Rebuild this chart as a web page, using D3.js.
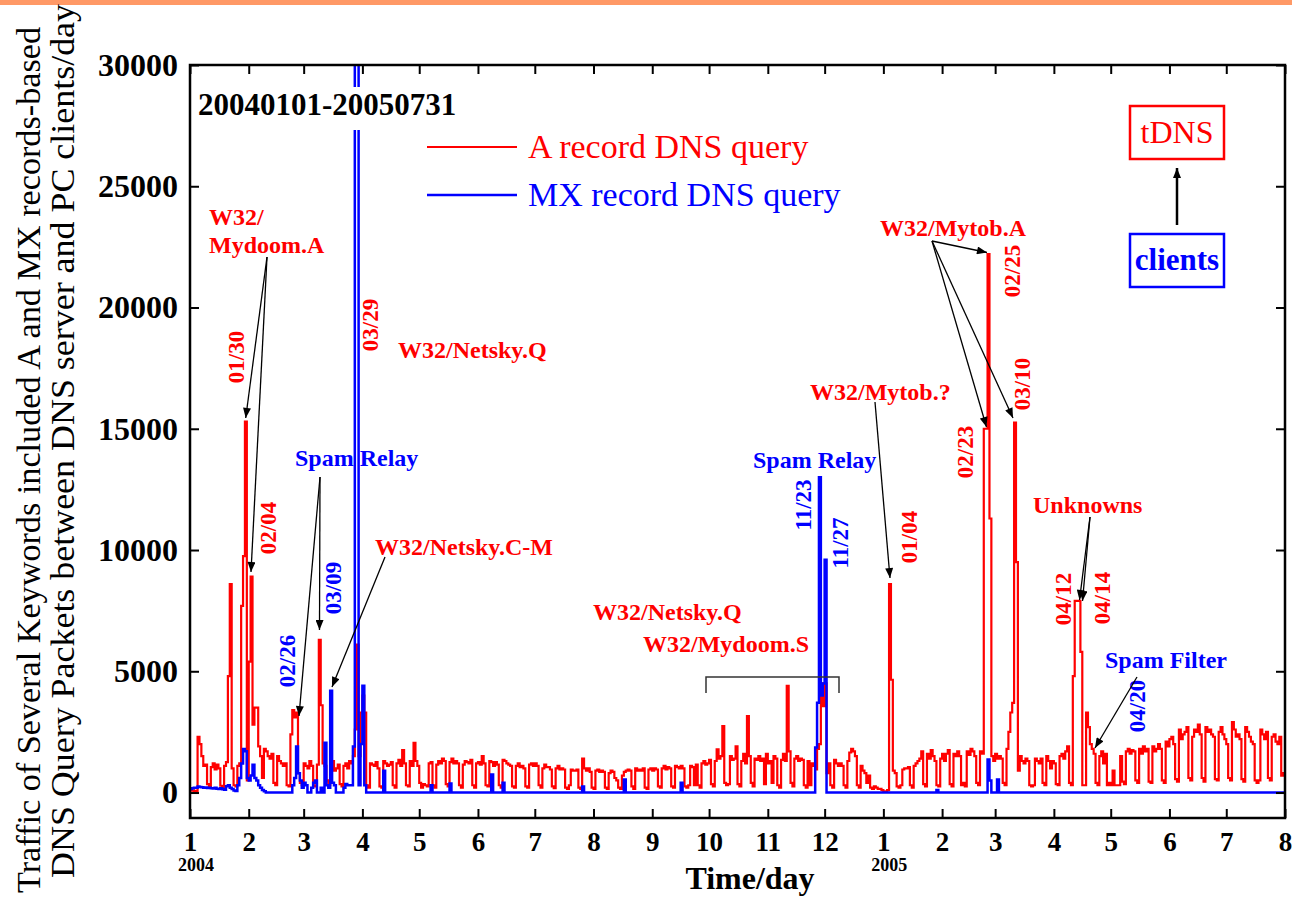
<!DOCTYPE html>
<html>
<head>
<meta charset="utf-8">
<script src="https://cdn.jsdelivr.net/npm/d3@7"></script>
<style>
  body { margin: 0; background: #fff; }
  svg { display: block; font-family: "Liberation Serif", "Times New Roman", serif; }
</style>
</head>
<body>
<svg id="chart" width="1292" height="897"></svg>
<script>
// daily packets, 2004-01-01 .. 2005-07-31, one row per week (Thu..Wed)
const aRecord = [
  80, 90, 70, 60, 2300, 2000, 1500,
  1100, 1150, 350, 250, 1050, 1200, 950,
  1150, 1000, 280, 200, 1100, 1250, 4800,
  8600, 1000, 300, 250, 1100, 1200, 7700,
  9750, 15300, 500, 5400, 8900, 2800, 3500,
  3500, 1900, 1500, 600, 1800, 1700, 1500,
  1400, 1600, 400, 300, 1500, 1300, 1200,
  1100, 1200, 300, 250, 2400, 3400, 3100,
  3300, 800, 400, 300, 1200, 1100, 1000,
  1300, 1100, 300, 250, 1150, 6300, 3600,
  1200, 1100, 500, 300, 1000, 1300, 900,
  1000, 1150, 350, 250, 1100, 1200, 1000,
  1300, 1200, 1500, 2600, 6100, 1500, 3300,
  4000, 3300, 300, 200, 1200, 1150, 1100,
  1250, 1000, 250, 200, 1300, 1200, 1100,
  1150, 1250, 300, 200, 1200, 1350, 1100,
  1750, 1200, 300, 250, 1300, 1100, 2050,
  1300, 1100, 400, 200, 350, 300, 250,
  1200, 1250, 300, 200, 1150, 1300, 1200,
  1400, 1300, 350, 250, 1250, 1400, 1200,
  1300, 1200, 300, 200, 1150, 1300, 1250,
  1200, 1350, 300, 200, 1200, 1250, 1150,
  1500, 1200, 300, 250, 1300, 1250, 1100,
  1250, 1150, 300, 200, 1350, 1300, 1200,
  1150, 1100, 250, 200, 1100, 1200, 1050,
  1100, 1000, 250, 200, 1150, 1200, 1100,
  1200, 1100, 300, 200, 1000, 1150, 1050,
  1050, 950, 250, 180, 1000, 1100, 950,
  1000, 950, 200, 150, 300, 950, 900,
  900, 950, 200, 150, 1400, 1000, 900,
  1000, 850, 200, 150, 900, 950, 850,
  900, 850, 200, 150, 800, 900, 850,
  600, 500, 200, 150, 700, 850, 900,
  950, 900, 250, 150, 1000, 900, 950,
  900, 1000, 200, 150, 950, 1000, 900,
  1000, 950, 250, 200, 1000, 1100, 950,
  1050, 1000, 250, 200, 1100, 1050, 1000,
  1100, 1000, 250, 200, 300, 1100, 1050,
  300, 1150, 300, 200, 1200, 1300, 1150,
  1200, 1350, 350, 250, 1300, 1780, 1400,
  1500, 2740, 400, 300, 350, 1500, 1350,
  1400, 1900, 350, 250, 1300, 1600, 1200,
  3150, 1500, 400, 250, 1400, 1350, 1500,
  1300, 1400, 350, 1600, 1200, 1300, 400,
  1500, 1400, 300, 200, 1350, 1600, 1300,
  4400, 1700, 400, 250, 1400, 1500, 1300,
  1400, 1350, 300, 200, 1300, 300, 1200,
  1100, 950, 1800, 2000, 4500, 3560, 4500,
  800, 1200, 300, 200, 1350, 1200, 1100,
  1200, 1100, 300, 200, 1300, 1650, 1800,
  1700, 1500, 300, 200, 1100, 900, 800,
  400, 700, 200, 150, 250, 200, 150,
  150, 100, 50, 50, 100, 8600, 4650,
  900, 800, 250, 200, 300, 950, 1000,
  1000, 1050, 300, 200, 1100, 1200, 1300,
  1400, 1700, 350, 250, 1600, 1400, 1750,
  1500, 1300, 300, 250, 1400, 1600, 1300,
  1600, 1750, 350, 250, 1600, 1500, 1700,
  1500, 300, 400, 250, 1700, 1550, 1800,
  1700, 1500, 400, 300, 1700, 1600, 15000,
  15000, 22200, 11300, 1500, 1300, 1600, 1400,
  1500, 1400, 400, 300, 1800, 2500, 3300,
  3700, 15250, 9500, 900, 1500, 1300, 1200,
  1400, 1300, 300, 250, 300, 1400, 1300,
  1200, 1400, 400, 300, 1500, 1300, 1000,
  1300, 1200, 350, 300, 1500, 1600, 1400,
  1700, 1900, 400, 300, 4800, 7900, 7900,
  7900, 5800, 300, 300, 3300, 2700, 2000,
  1800, 1600, 400, 300, 1500, 1700, 1200,
  1600, 300, 400, 300, 900, 300, 300,
  300, 1500, 450, 350, 1700, 1800, 1600,
  1750, 1700, 500, 400, 1800, 1600, 1900,
  1700, 1800, 450, 400, 1900, 1700, 1800,
  2000, 1800, 500, 400, 2100, 1900, 2200,
  2300, 2000, 550, 450, 2600, 2200, 2400,
  2500, 2700, 600, 500, 2300, 2600, 2500,
  2800, 2400, 600, 450, 2700, 2500, 2600,
  2400, 2300, 550, 500, 2500, 2700, 2400,
  2200, 2000, 600, 500, 2900, 2600, 2300,
  2400, 2200, 550, 450, 2700, 2500, 2300,
  2100, 2000, 500, 400, 500, 2600, 2400,
  2200, 2500, 600, 500, 2300, 2400, 2100,
  2000, 2300, 700, 800
];

const mxRecord = [
  150, 180, 200, 200, 250, 230, 220,
  200, 210, 190, 200, 180, 170, 200,
  160, 150, 180, 140, 120, 260, 300,
  200, 150, 80, 60, 300, 600, 1200,
  1800, 1700, 600, 500, 700, 1150, 600,
  500, 300, 200, 100, 50, 0, 0,
  0, 0, 0, 0, 0, 0, 0,
  0, 0, 0, 0, 0, 300, 600,
  1900, 800, 500, 200, 400, 300, 0,
  0, 200, 400, 500, 0, 0, 200,
  0, 2050, 300, 200, 4200, 400, 300,
  0, 0, 0, 0, 200, 350, 300,
  300, 300, 1900, 36000, 36000, 300, 2000,
  4400, 300, 0, 0, 0, 0, 0,
  0, 0, 0, 0, 900, 0, 0,
  0, 0, 0, 0, 0, 0, 0,
  0, 0, 0, 0, 0, 0, 0,
  0, 0, 0, 0, 0, 0, 0,
  0, 300, 0, 0, 0, 0, 0,
  0, 0, 0, 0, 370, 0, 0,
  0, 0, 0, 0, 0, 0, 0,
  0, 0, 0, 0, 0, 0, 0,
  0, 0, 0, 0, 0, 740, 0,
  0, 0, 0, 0, 400, 0, 0,
  0, 0, 0, 0, 0, 0, 0,
  0, 0, 0, 0, 0, 0, 0,
  0, 0, 0, 0, 0, 0, 0,
  0, 0, 0, 0, 0, 0, 0,
  0, 0, 0, 0, 0, 0, 0,
  0, 0, 0, 0, 250, 0, 0,
  0, 0, 0, 0, 0, 0, 0,
  0, 0, 0, 0, 0, 0, 0,
  0, 0, 0, 0, 0, 540, 0,
  0, 0, 0, 0, 0, 0, 0,
  0, 0, 0, 0, 0, 0, 0,
  0, 0, 0, 0, 0, 0, 0,
  0, 0, 0, 0, 0, 0, 0,
  400, 0, 0, 0, 0, 0, 0,
  0, 0, 0, 0, 0, 0, 0,
  0, 0, 0, 0, 0, 0, 0,
  0, 0, 0, 0, 0, 0, 0,
  0, 0, 0, 0, 0, 0, 0,
  0, 0, 0, 0, 0, 0, 0,
  0, 0, 0, 0, 0, 0, 0,
  0, 0, 0, 0, 0, 0, 0,
  0, 0, 0, 0, 0, 0, 0,
  0, 0, 0, 0, 0, 0, 0,
  0, 1860, 3700, 13000, 4000, 4500, 9600,
  0, 0, 0, 0, 0, 0, 0,
  0, 0, 0, 0, 0, 0, 0,
  0, 0, 0, 0, 0, 0, 0,
  0, 0, 0, 0, 0, 0, 0,
  0, 0, 0, 0, 0, 0, 0,
  0, 0, 0, 0, 0, 0, 0,
  0, 0, 0, 0, 0, 0, 0,
  0, 0, 0, 0, 0, 0, 0,
  0, 0, 100, 0, 0, 0, 0,
  0, 0, 0, 0, 0, 0, 0,
  0, 0, 0, 0, 0, 0, 0,
  0, 0, 0, 0, 0, 0, 0,
  0, 1360, 500, 0, 0, 0, 540,
  0, 0, 0, 0, 0, 0, 0,
  0, 0, 0, 0, 0, 0, 0,
  0, 0, 0, 0, 0, 0, 0,
  0, 0, 0, 0, 0, 0, 0,
  0, 0, 0, 0, 0, 0, 0,
  0, 0, 0, 0, 0, 0, 0,
  0, 0, 0, 0, 0, 0, 0,
  0, 0, 0, 0, 0, 0, 0,
  0, 0, 0, 0, 0, 0, 0,
  0, 0, 0, 0, 0, 0, 0,
  0, 0, 0, 0, 0, 0, 0,
  0, 0, 0, 0, 0, 0, 0,
  0, 0, 0, 0, 0, 0, 0,
  0, 0, 0, 0, 0, 0, 0,
  0, 0, 0, 0, 0, 0, 0,
  0, 0, 0, 0, 0, 0, 0,
  0, 0, 0, 0, 0, 0, 0,
  0, 0, 0, 0, 0, 0, 0,
  0, 0, 0, 0, 0, 0, 0,
  0, 0, 0, 0, 0, 0, 0,
  0, 0, 0, 0
];

const yTickValues = [0, 5000, 10000, 15000, 20000, 25000, 30000];
const yearLabels = ["2004", "2005"];
const seriesNames = ["A record DNS query", "MX record DNS query"];

const RED = "#ff0000", BLUE = "#0000ff";
const pL = 190, pR = 1285, pT = 65, pB = 818;

const startDay = Date.UTC(2004, 0, 1);
const endDay = Date.UTC(2005, 7, 1);
const dayDate = i => new Date(startDay + i * 864e5);

const svg = d3.select("#chart");

const x = d3.scaleUtc().domain([new Date(startDay), new Date(endDay)]).range([pL, pR]);
const y = d3.scaleLinear().domain([-1050, 30000]).range([pB, pT]);

// orange band at the very top
svg.append("rect").attr("x", 0).attr("y", 0).attr("width", 1292).attr("height", 5).attr("fill", "#ff9966");

const defs = svg.append("defs");
defs.append("clipPath").attr("id", "plotClip")
  .append("rect").attr("x", pL).attr("y", pT).attr("width", pR - pL).attr("height", pB - pT);

defs.append("marker")
  .attr("id", "head")
  .attr("viewBox", "0 0 10 8")
  .attr("refX", 10).attr("refY", 4)
  .attr("markerUnits", "userSpaceOnUse")
  .attr("markerWidth", 11).attr("markerHeight", 8)
  .attr("orient", "auto")
  .append("path").attr("d", "M0,0 L10,4 L0,8 Z").attr("fill", "#000");

const toPoints = arr => arr.map((v, i) => [dayDate(i), v]).concat([[new Date(endDay), arr[arr.length - 1]]]);

const line = d3.line()
  .x(d => x(d[0]))
  .y(d => y(d[1]))
  .curve(d3.curveStepAfter);

const plot = svg.append("g").attr("clip-path", "url(#plotClip)");

plot.append("path")
  .attr("d", line(toPoints(aRecord)))
  .attr("fill", "none").attr("stroke", RED).attr("stroke-width", 2.2);

plot.append("path")
  .attr("d", line(toPoints(mxRecord)))
  .attr("fill", "none").attr("stroke", BLUE).attr("stroke-width", 2.5);

// period label with white box over the lines
svg.append("rect").attr("x", 192).attr("y", 87).attr("width", 270).attr("height", 43).attr("fill", "#fff");
svg.append("text").attr("x", 198).attr("y", 115)
  .attr("font-size", 31).attr("font-weight", "bold").text("20040101-20050731");

// axes
const months = d3.utcMonth.range(new Date(startDay), new Date(endDay + 1));

const styleAxis = g => {
  g.select(".domain").remove();
  g.selectAll(".tick line").attr("stroke", "#000").attr("stroke-width", 2);
  g.selectAll(".tick text").attr("fill", "#000").attr("font-family", "'Liberation Serif', serif").attr("font-weight", "bold");
};

svg.append("g").attr("transform", `translate(0,${pB})`)
  .call(d3.axisBottom(x).tickValues(months).tickSizeInner(-9).tickSizeOuter(0).tickPadding(14).tickFormat(d3.utcFormat("%-m")))
  .call(styleAxis)
  .call(g => g.selectAll(".tick text").attr("font-size", 27));

svg.append("g").attr("transform", `translate(0,${pT})`)
  .call(d3.axisTop(x).tickValues(months).tickSizeInner(-9).tickSizeOuter(0).tickFormat(""))
  .call(styleAxis);

svg.append("g").attr("transform", `translate(${pL},0)`)
  .call(d3.axisLeft(y).tickValues(yTickValues).tickSizeInner(-9).tickSizeOuter(0).tickPadding(12).tickFormat(d3.format("d")))
  .call(styleAxis)
  .call(g => g.selectAll(".tick text").attr("font-size", 32));

svg.append("g").attr("transform", `translate(${pR},0)`)
  .call(d3.axisRight(y).tickValues(yTickValues).tickSizeInner(-9).tickSizeOuter(0).tickFormat(""))
  .call(styleAxis);

svg.append("rect")
  .attr("x", pL).attr("y", pT).attr("width", pR - pL).attr("height", pB - pT)
  .attr("fill", "none").attr("stroke", "#000").attr("stroke-width", 2.5);

// year markers under January
svg.selectAll("text.year")
  .data(yearLabels)
  .enter().append("text")
  .attr("class", "year")
  .attr("x", d => x(new Date(Date.UTC(+d, 0, 1))) + 6)
  .attr("y", 871)
  .attr("text-anchor", "middle")
  .attr("font-size", 18).attr("font-weight", "bold")
  .text(d => d);

// axis titles
svg.append("text").attr("x", 750).attr("y", 889).attr("text-anchor", "middle")
  .attr("font-size", 32).attr("font-weight", "bold").text("Time/day");

svg.append("text")
  .attr("transform", "translate(28,460) rotate(-90)")
  .attr("text-anchor", "middle").attr("dy", "0.35em")
  .attr("font-size", 34)
  .attr("textLength", 866).attr("lengthAdjust", "spacingAndGlyphs")
  .text("Traffic of Several Keywords included A and MX records-based");

svg.append("text")
  .attr("transform", "translate(62,441) rotate(-90)")
  .attr("text-anchor", "middle").attr("dy", "0.35em")
  .attr("font-size", 34)
  .attr("textLength", 874).attr("lengthAdjust", "spacingAndGlyphs")
  .text("DNS Query Packets between DNS server and PC clients/day");

// legend
const legendColors = [RED, BLUE];
seriesNames.forEach((name, i) => {
  const ly = 147 + i * 48;
  svg.append("line").attr("x1", 427).attr("x2", 517).attr("y1", ly).attr("y2", ly)
    .attr("stroke", legendColors[i]).attr("stroke-width", i ? 2.5 : 2);
  svg.append("text").attr("x", 528).attr("y", ly + 11)
    .attr("font-size", 34).attr("fill", legendColors[i]).text(name);
});

// tDNS / clients boxes
svg.append("rect").attr("x", 1130).attr("y", 106).attr("width", 94).attr("height", 53)
  .attr("fill", "none").attr("stroke", RED).attr("stroke-width", 2.5);
svg.append("text").attr("x", 1177).attr("y", 143).attr("text-anchor", "middle")
  .attr("font-size", 32).attr("fill", RED).text("tDNS");
svg.append("rect").attr("x", 1130).attr("y", 234).attr("width", 94).attr("height", 53)
  .attr("fill", "none").attr("stroke", BLUE).attr("stroke-width", 2.5);
svg.append("text").attr("x", 1177).attr("y", 270).attr("text-anchor", "middle")
  .attr("font-size", 31).attr("font-weight", "bold").attr("fill", BLUE).text("clients");
svg.append("line").attr("x1", 1177).attr("y1", 225).attr("x2", 1177).attr("y2", 168)
  .attr("stroke", "#000").attr("stroke-width", 2.5).attr("marker-end", "url(#head)");

// annotation labels
const notes = [
  { t: "W32/", x: 209, y: 225, c: RED },
  { t: "Mydoom.A", x: 209, y: 253, c: RED },
  { t: "W32/Netsky.Q", x: 398, y: 358, c: RED },
  { t: "Spam Relay", x: 295, y: 466, c: BLUE },
  { t: "W32/Netsky.C-M", x: 375, y: 555, c: RED },
  { t: "W32/Netsky.Q", x: 593, y: 620, c: RED },
  { t: "W32/Mydoom.S", x: 643, y: 652, c: RED },
  { t: "Spam Relay", x: 753, y: 468, c: BLUE },
  { t: "W32/Mytob.?", x: 810, y: 400, c: RED },
  { t: "W32/Mytob.A", x: 880, y: 236, c: RED },
  { t: "Unknowns", x: 1033, y: 513, c: RED },
  { t: "Spam Filter", x: 1105, y: 668, c: BLUE }
];
svg.selectAll("text.note").data(notes).enter().append("text")
  .attr("class", "note")
  .attr("x", d => d.x).attr("y", d => d.y)
  .attr("font-size", 24).attr("font-weight", "bold")
  .attr("fill", d => d.c).text(d => d.t);

const dates = [
  { t: "01/30", x: 236, y: 357, c: RED },
  { t: "02/04", x: 268, y: 528, c: RED },
  { t: "03/29", x: 370, y: 325, c: RED },
  { t: "02/26", x: 287, y: 661, c: BLUE },
  { t: "03/09", x: 333, y: 588, c: BLUE },
  { t: "11/23", x: 803, y: 505, c: BLUE },
  { t: "11/27", x: 840, y: 543, c: BLUE },
  { t: "01/04", x: 909, y: 537, c: RED },
  { t: "02/25", x: 1012, y: 271, c: RED },
  { t: "03/10", x: 1022, y: 384, c: RED },
  { t: "02/23", x: 965, y: 452, c: RED },
  { t: "04/12", x: 1063, y: 599, c: RED },
  { t: "04/14", x: 1102, y: 598, c: RED },
  { t: "04/20", x: 1137, y: 706, c: BLUE }
];
svg.selectAll("text.date").data(dates).enter().append("text")
  .attr("class", "date")
  .attr("transform", d => `translate(${d.x},${d.y}) rotate(-90)`)
  .attr("text-anchor", "middle").attr("dy", "0.35em")
  .attr("font-size", 23).attr("font-weight", "bold")
  .attr("fill", d => d.c).text(d => d.t);

// arrows from labels to peaks
const arrows = [
  [[267, 257], [245.7, 418]],
  [[267, 257], [251, 572]],
  [[320, 477], [299, 716]],
  [[320, 477], [319.5, 630]],
  [[385, 557], [332, 687]],
  [[875, 402], [890, 578]],
  [[932, 241], [987, 252.5]],
  [[932, 241], [986.5, 427]],
  [[932, 241], [1013, 418]],
  [[1090, 517], [1079.5, 600]],
  [[1090, 517], [1082.5, 601]],
  [[1137, 677], [1095, 748]]
];
svg.selectAll("line.arrow").data(arrows).enter().append("line")
  .attr("class", "arrow")
  .attr("x1", d => d[0][0]).attr("y1", d => d[0][1])
  .attr("x2", d => d[1][0]).attr("y2", d => d[1][1])
  .attr("stroke", "#000").attr("stroke-width", 1.3)
  .attr("marker-end", "url(#head)");

// bracket under the Netsky.Q / Mydoom.S period
svg.append("path").attr("d", "M706,693 V677 H839 V693")
  .attr("fill", "none").attr("stroke", "#333").attr("stroke-width", 1.5);
</script>
</body>
</html>
